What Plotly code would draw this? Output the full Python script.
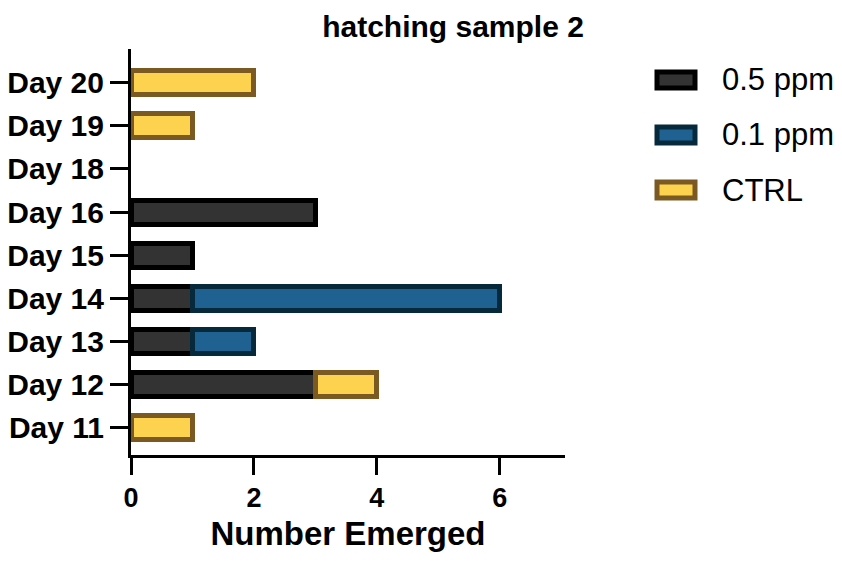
import plotly.graph_objects as go

days = ["Day 11", "Day 12", "Day 13", "Day 14", "Day 15", "Day 16", "Day 18", "Day 19", "Day 20"]
ppm05 = [None, 3, 1, 1, 1, 3, None, None, None]
ppm01 = [None, None, 1, 5, None, None, None, None, None]
ctrl = [1, 1, None, None, None, None, None, 1, 2]
series_names = ["0.5 ppm", "0.1 ppm", "CTRL"]
x_ticks = [0, 2, 4, 6]

fills = ["#333333", "#1f6292", "#fdd24f"]
lines = ["#000000", "#062a3b", "#7a5a22"]
FONT = "Liberation Sans, Arial, sans-serif"

# page has an 8px body margin; work in figure coordinates
OFF = 8
W, H = 842 - OFF, 562 - OFF
L, T = 131 - OFF, 49 - OFF
R = W - (565 - OFF)
B = H - (455 - OFF)
PW, PH = W - L - R, H - T - B


def px(xp):
    return (xp - OFF - L) / PW


def py(yp):
    return 1 - (yp - OFF - T) / PH


fig = go.Figure()
for name, vals, fc, lc in zip(series_names, [ppm05, ppm01, ctrl], fills, lines):
    fig.add_trace(go.Bar(
        y=days, x=vals, orientation="h", name=name,
        marker=dict(color=fc, line=dict(color=lc, width=5)),
        width=0.56, showlegend=False,
    ))

# custom legend
leg_y = [80, 135, 190]
for name, fc, lc, yc in zip(series_names, fills, lines, leg_y):
    fig.add_shape(type="rect", xref="paper", yref="paper",
                  x0=px(657), x1=px(695), y0=py(yc + 8), y1=py(yc - 8),
                  fillcolor=fc, line=dict(color=lc, width=5), layer="above")
    fig.add_annotation(xref="paper", yref="paper",
                       x=px(720), y=py(yc),
                       xanchor="left", yanchor="middle", showarrow=False,
                       text=name, font=dict(family=FONT, size=31, color="#000000"))

fig.update_layout(
    width=W, height=H,
    margin=dict(l=L, r=R, t=T, b=B),
    barmode="stack",
    plot_bgcolor="white", paper_bgcolor="white",
    font=dict(family=FONT, color="#000000"),
    title=dict(text="<b>hatching sample 2</b>", xref="container", yref="container",
               x=(453 - OFF) / W, y=1 - (26 - OFF) / H, xanchor="center", yanchor="middle",
               font=dict(family=FONT, size=30, color="#000000")),
    xaxis=dict(range=[0, 7.06], tickvals=x_ticks, ticktext=[f"<b>{v}</b>" for v in x_ticks],
               ticks="outside", ticklen=17, tickwidth=3, tickcolor="#000000",
               showline=True, linewidth=3, linecolor="#000000",
               showgrid=False, zeroline=False, automargin=False,
               tickfont=dict(family=FONT, size=27, color="#000000"),
               title=dict(text="<b>Number Emerged</b>", standoff=10,
                          font=dict(family=FONT, size=33, color="#000000"))),
    yaxis=dict(type="category", categoryorder="array", categoryarray=days,
               range=[-0.63, 8.78],
               tickvals=days, ticktext=[f"<b>{d}</b>" for d in days],
               ticks="outside", ticklen=18, tickwidth=3, tickcolor="#000000",
               showline=True, linewidth=3, linecolor="#000000",
               showgrid=False, zeroline=False, automargin=False,
               tickfont=dict(family=FONT, size=30, color="#000000")),
)

fig.write_html("out.html")
